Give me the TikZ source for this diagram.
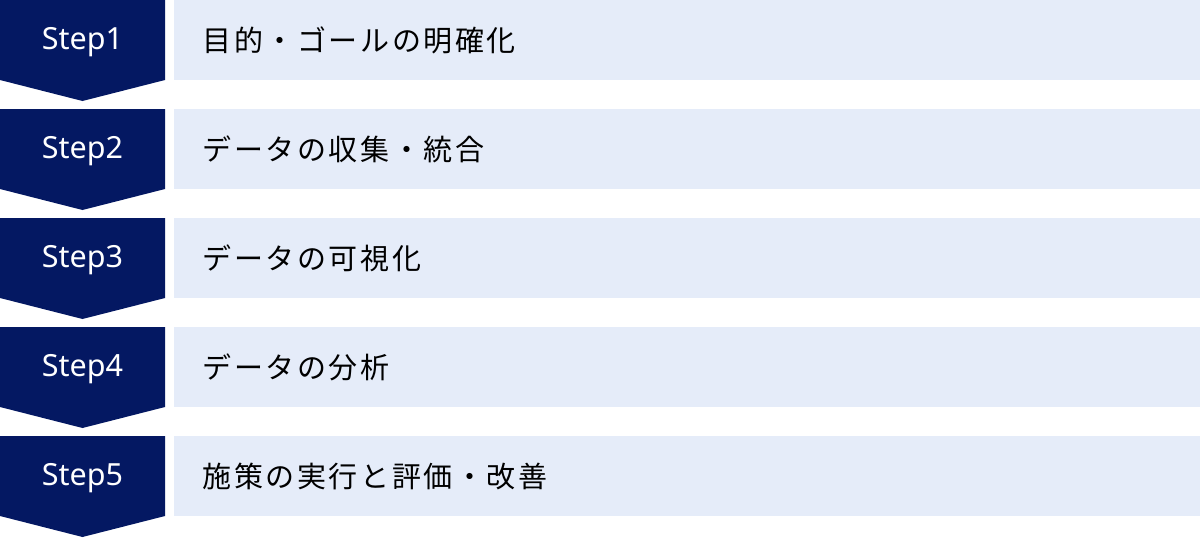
\documentclass[tikz,border=0pt]{standalone}
\usepackage{fontspec}
\setmainfont{Noto Sans CJK JP}
\newfontfamily\jpfont[LetterSpace=9]{Noto Sans CJK JP}
\newfontfamily\latinfont{Noto Sans}
\definecolor{navy}{HTML}{041862}
\definecolor{paleblue}{HTML}{E5ECF9}
\begin{document}
\begin{tikzpicture}[x=1pt,y=-1pt,
  stepbox/.style={fill=navy,draw=none},
  steplabel/.style={text=white,font=\latinfont\fontsize{30.5}{30.5}\selectfont,anchor=center},
  itembox/.style={fill=paleblue,draw=none},
  itemlabel/.style={text=black,font=\jpfont\fontsize{29}{29}\selectfont,anchor=west}]
\useasboundingbox (0,0) rectangle (1200,538);
\foreach \i/\t in {1/{目的・ゴールの明確化},2/{データの収集・統合},3/{データの可視化},4/{データの分析},5/{施策の実行と評価・改善}}{
  \pgfmathsetmacro{\y}{(\i-1)*109}
  \fill[stepbox] (0,\y) -- (165,\y) -- (165,\y+80) -- (82.5,\y+101) -- (0,\y+80) -- cycle;
  \node[steplabel] (s\i) at (82.5,\y+42) {Step\i};
  \fill[itembox] (174,\y) rectangle (1200,\y+80);
  \node[itemlabel] (t\i) at (199,\y+40) {\t};
}
\end{tikzpicture}
\end{document}
